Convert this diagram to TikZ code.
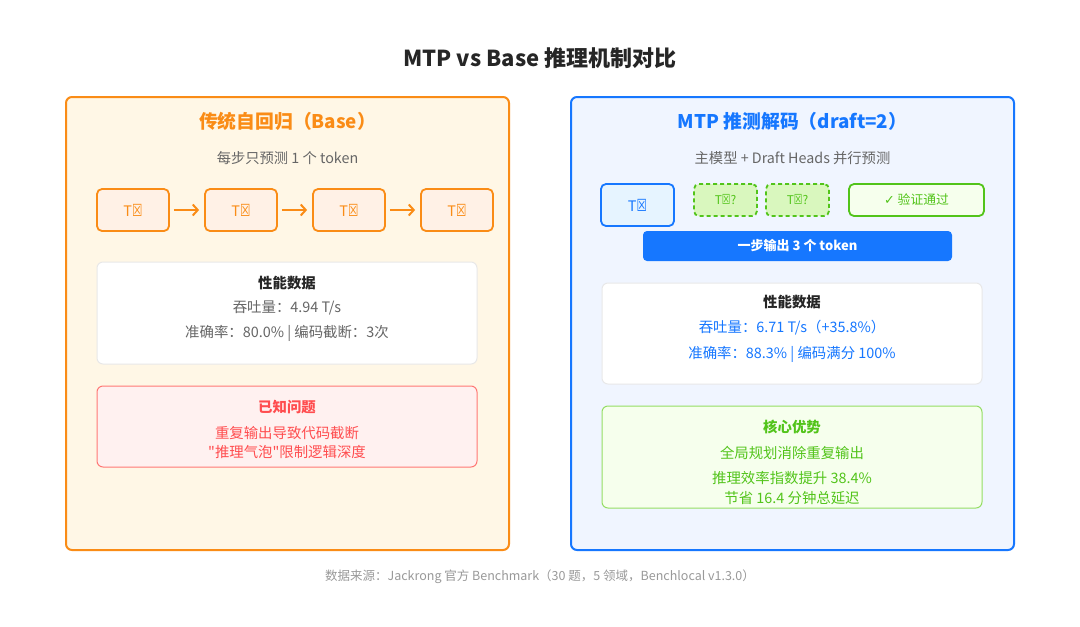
\documentclass[tikz,border=0pt]{standalone}
\usepackage{fontspec}
\setmainfont{Noto Sans CJK SC}[Ligatures=TeXOff]
\newfontfamily\symfont{DejaVu Sans}
\usepackage{tikz}
\usetikzlibrary{arrows.meta}
\usepackage{xcolor}
\definecolor{baseorange}{RGB}{250,140,22}
\definecolor{basefill}{RGB}{255,247,230}
\definecolor{tokfill}{RGB}{255,241,230}
\definecolor{mtpblue}{RGB}{22,119,255}
\definecolor{mtpfill}{RGB}{240,245,255}
\definecolor{maintok}{RGB}{230,244,255}
\definecolor{okgreen}{RGB}{82,196,26}
\definecolor{draftfill}{RGB}{217,247,190}
\definecolor{okfill}{RGB}{246,255,237}
\definecolor{advline}{RGB}{149,222,100}
\definecolor{issuered}{RGB}{255,77,79}
\definecolor{issuefill}{RGB}{255,241,240}
\definecolor{issueline}{RGB}{255,120,117}
\definecolor{darktext}{RGB}{38,38,38}
\definecolor{graytext}{RGB}{102,102,102}
\definecolor{lightgray}{RGB}{232,232,232}
\definecolor{notegray}{RGB}{153,153,153}

\newcommand{\tokx}{T\scalebox{0.8}[1.15]{\symfont ☒}}

\begin{document}
\begin{tikzpicture}[x=1pt, y=-1pt, >={Straight Barb[length=5pt, width=11pt]},
    panel/.style={draw, line width=2pt, rounded corners=6pt},
    tok/.style={draw, line width=1.8pt, rounded corners=5pt, minimum width=72pt, minimum height=42pt, font=\fontsize{14.5}{16}\selectfont},
    draft/.style={draw=okgreen, dash pattern=on 4pt off 3pt, line width=1.8pt, rounded corners=5pt, fill=draftfill, text=okgreen, minimum width=63pt, minimum height=32pt, font=\fontsize{12}{13}\selectfont},
    card/.style={draw, line width=1pt, rounded corners=6pt, minimum width=380pt},
    head/.style={font=\bfseries\fontsize{18.8}{22}\selectfont},
    sub/.style={text=graytext, font=\fontsize{14.3}{16}\selectfont},
    cardhead/.style={font=\bfseries\fontsize{14.4}{16}\selectfont},
    cardline/.style={font=\fontsize{14.4}{16}\selectfont},
    flow/.style={->, line width=2pt, baseorange, shorten <=4pt, shorten >=5pt}]
    \fill[white] (0,0) rectangle (1080,627);
    \useasboundingbox (0,0) rectangle (1080,627);

    % Title
    \node[text=darktext, font=\bfseries\fontsize{22}{26}\selectfont] (title) at (540,58) {MTP vs Base 推理机制对比};

    % Base panel
    \node[panel, draw=baseorange, fill=basefill, minimum width=443pt, minimum height=453pt] (base) at (287.5,323.5) {};
    \node[head, text=baseorange] (basehead) at (287.5,121) {传统自回归（Base）};
    \node[sub] (basesub) at (287.5,158) {每步只预测 1 个 token};

    % Base tokens
    \node[tok, draw=baseorange, fill=tokfill, text=baseorange] (t1) at (133,210) {\tokx};
    \node[tok, draw=baseorange, fill=tokfill, text=baseorange] (t2) at (241,210) {\tokx};
    \node[tok, draw=baseorange, fill=tokfill, text=baseorange] (t3) at (349,210) {\tokx};
    \node[tok, draw=baseorange, fill=tokfill, text=baseorange] (t4) at (457,210) {\tokx};
    \draw[flow] (t1) -- (t2);
    \draw[flow] (t2) -- (t3);
    \draw[flow] (t3) -- (t4);

    % Base data
    \node[card, draw=lightgray, fill=white, minimum height=102pt] (baseperf) at (287,313) {};
    \node[cardhead, text=darktext] (bpt) at (287,283) {性能数据};
    \node[cardline, text=graytext] (bp1) at (287,308) {吞吐量：4.94 T/s};
    \node[cardline, text=graytext] (bp2) at (287,333) {准确率：80.0\% | 编码截断：3次};

    % Base issues
    \node[card, draw=issueline, fill=issuefill, minimum height=81pt] (issue) at (287,426.5) {};
    \node[cardhead, text=issuered] (it) at (287,407) {已知问题};
    \node[cardline, text=issuered] (i1) at (287,433) {重复输出导致代码截断};
    \node[cardline, text=issuered] (i2) at (287,452) {"推理气泡"限制逻辑深度};

    % MTP panel
    \node[panel, draw=mtpblue, fill=mtpfill, minimum width=443pt, minimum height=453pt] (mtp) at (792.5,323.5) {};
    \node[head, text=mtpblue] (mtphead) at (792.5,121) {MTP 推测解码（draft=2）};
    \node[sub] (mtpsub) at (792.5,158) {主模型 + Draft Heads 并行预测};

    % MTP tokens
    \node[tok, draw=mtpblue, fill=maintok, text=mtpblue, minimum width=73pt] (m0) at (637.5,205) {\tokx};
    \node[draft] (d1) at (725.5,200) {\tokx?};
    \node[draft] (d2) at (797.5,200) {\tokx?};
    \node[draw=okgreen, line width=1.8pt, rounded corners=5pt, fill=okfill, text=okgreen, minimum width=135pt, minimum height=32pt, font=\fontsize{12.8}{15}\selectfont] (verify) at (916.5,200) {{\symfont ✓} 验证通过};
    \node[fill=mtpblue, rounded corners=4pt, minimum width=309pt, minimum height=30pt, text=white, font=\bfseries\fontsize{13}{15}\selectfont] (onestep) at (797.5,246) {一步输出 3 个 token};

    % MTP data
    \node[card, draw=lightgray, fill=white, minimum height=101pt] (mtpperf) at (792,333.5) {};
    \node[cardhead, text=darktext] (mpt) at (792,302) {性能数据};
    \node[cardline, text=mtpblue] (mp1) at (792,328) {吞吐量：6.71 T/s（+35.8\%）};
    \node[cardline, text=mtpblue] (mp2) at (792,354) {准确率：88.3\% | 编码满分 100\%};

    % MTP advantages
    \node[card, draw=advline, fill=okfill, minimum height=102pt] (adv) at (792,457) {};
    \node[cardhead, text=okgreen] (at) at (792,427) {核心优势};
    \node[cardline, text=okgreen] (a1) at (792,453) {全局规划消除重复输出};
    \node[cardline, text=okgreen] (a2) at (792,478) {推理效率指数提升 38.4\%};
    \node[cardline, text=okgreen] (a3) at (792,498) {节省 16.4 分钟总延迟};

    % Source
    \node[text=notegray, font=\fontsize{12.5}{14}\selectfont] (source) at (540,577) {数据来源：Jackrong 官方 Benchmark（30 题，5 领域，Benchlocal v1.3.0）};
\end{tikzpicture}
\end{document}
